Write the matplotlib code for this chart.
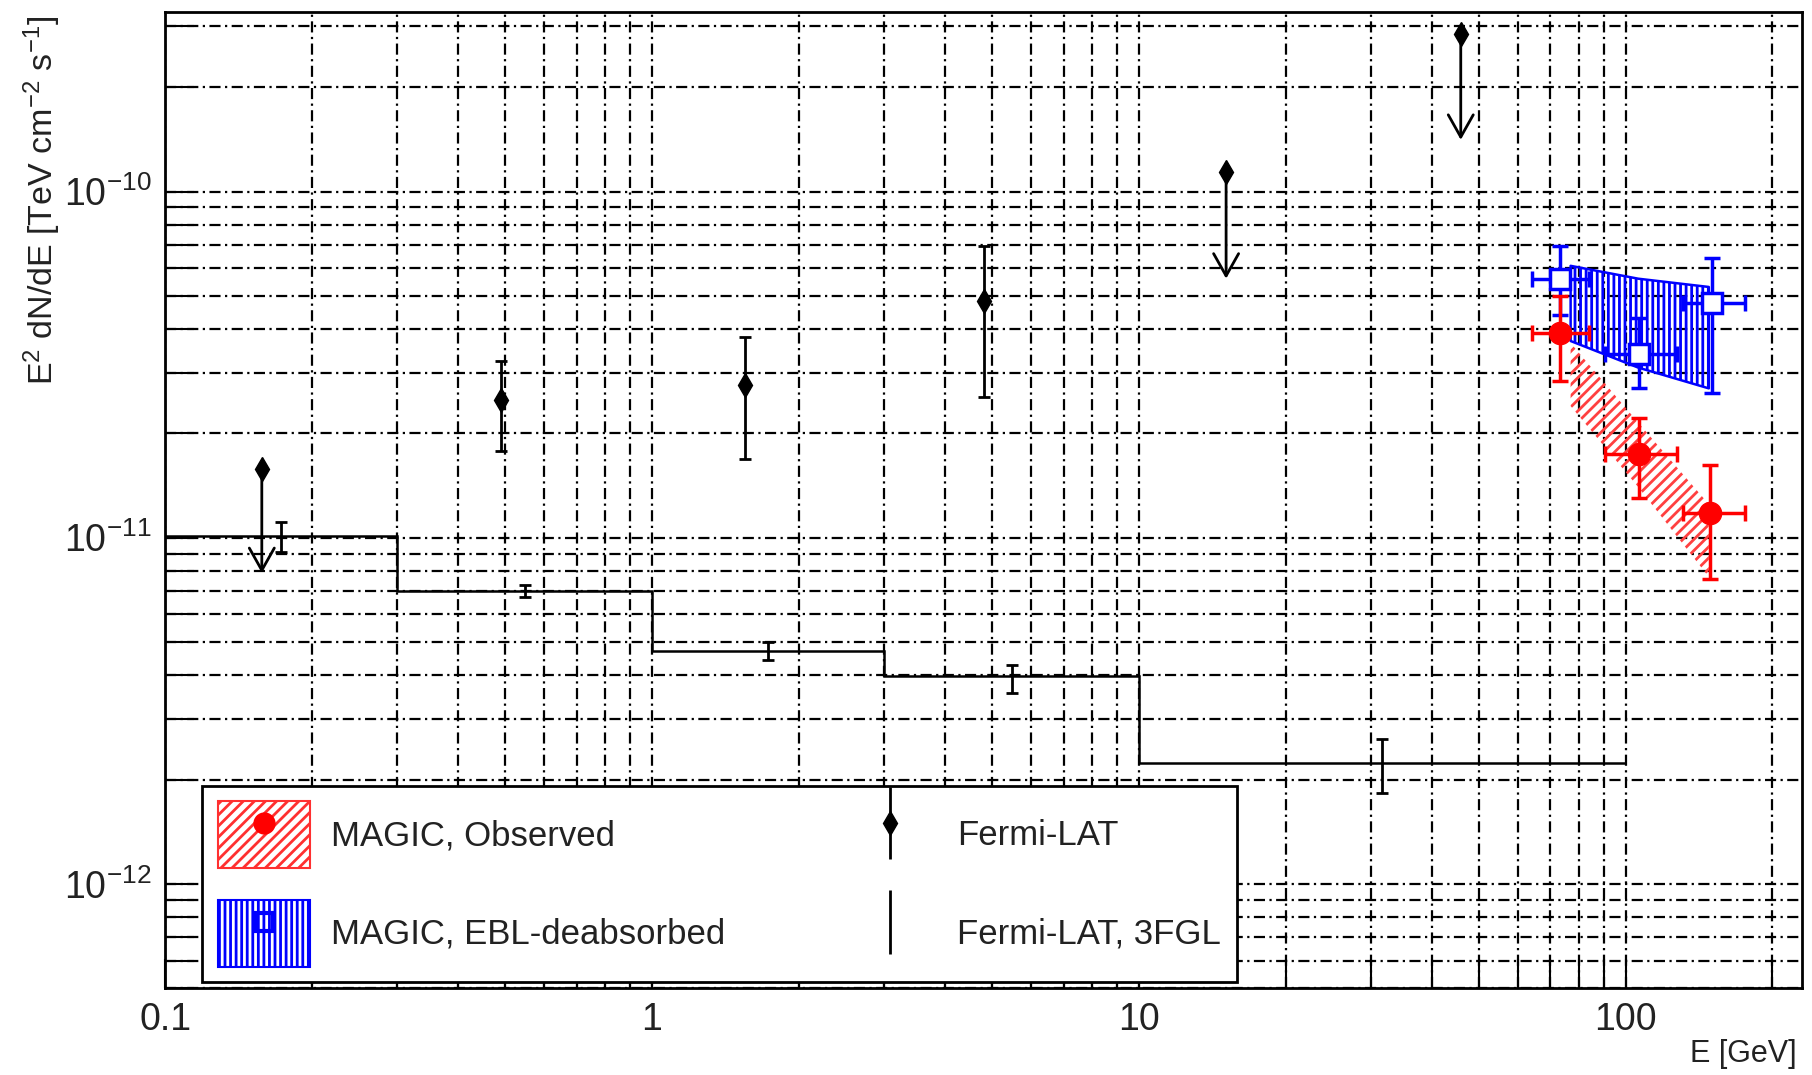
import matplotlib
matplotlib.use("Agg")
import matplotlib.pyplot as plt
from matplotlib.patches import Patch
from matplotlib.lines import Line2D
from matplotlib.legend_handler import HandlerTuple
from matplotlib.ticker import LogLocator, NullFormatter, FixedLocator

plt.rcParams['font.family'] = ['Liberation Sans', 'DejaVu Sans']
plt.rcParams['mathtext.fontset'] = 'custom'
plt.rcParams['mathtext.rm'] = 'Liberation Sans'
plt.rcParams['mathtext.it'] = 'Liberation Sans:italic'
plt.rcParams['mathtext.bf'] = 'Liberation Sans:bold'
plt.rcParams['hatch.linewidth'] = 2.0

# Fermi-LAT : points avec barres d'erreur
lat_e = [0.49, 1.55, 4.8]
lat_f = [2.5e-11, 2.77e-11, 4.82e-11]
lat_f_lo = [1.78e-11, 1.69e-11, 2.55e-11]
lat_f_hi = [3.23e-11, 3.8e-11, 6.97e-11]

# Fermi-LAT : limites supérieures (flèche jusqu'à lat_ul_end)
lat_ul_e = [0.158, 15.1, 45.8]
lat_ul_f = [1.58e-11, 1.14e-10, 2.86e-10]
lat_ul_end = [7.9e-12, 5.6e-11, 1.41e-10]

# Fermi-LAT 3FGL : bins en énergie
fgl_edges = [0.1, 0.3, 1, 3, 10, 100]
fgl_f = [1.01e-11, 7.03e-12, 4.71e-12, 3.98e-12, 2.24e-12]
fgl_e = [0.173, 0.548, 1.73, 5.48, 31.6]
fgl_f_lo = [9.1e-12, 6.76e-12, 4.43e-12, 3.55e-12, 1.83e-12]
fgl_f_hi = [1.11e-11, 7.3e-12, 5.01e-12, 4.3e-12, 2.62e-12]

# MAGIC observé
magic_e = [73.3, 106.6, 149]
magic_e_lo = [64.2, 90.7, 130.7]
magic_e_hi = [84, 127.6, 176]
magic_f = [3.89e-11, 1.75e-11, 1.175e-11]
magic_f_lo = [2.84e-11, 1.3e-11, 7.6e-12]
magic_f_hi = [5.0e-11, 2.21e-11, 1.62e-11]

# MAGIC corrigé de l'EBL
deabs_e = [73.3, 106.6, 150]
deabs_e_lo = [64.2, 90.7, 130.7]
deabs_e_hi = [84, 127.6, 176]
deabs_f = [5.6e-11, 3.4e-11, 4.77e-11]
deabs_f_lo = [4.4e-11, 2.7e-11, 2.61e-11]
deabs_f_hi = [6.97e-11, 4.3e-11, 6.44e-11]

# bandes d'incertitude
band_e = [77, 106, 148]
obs_band_hi = [3.65e-11, 2.15e-11, 1.25e-11]
obs_band_lo = [2.4e-11, 1.4e-11, 7.7e-12]
deabs_band_hi = [6.1e-11, 5.6e-11, 5.3e-11]
deabs_band_lo = [3.7e-11, 3.1e-11, 2.7e-11]

x_ticks = [0.1, 1, 10, 100]
x_tick_labels = ['0.1', '1', '10', '100']
y_ticks = [1e-12, 1e-11, 1e-10]
y_tick_labels = [r'$10^{-12}$', r'$10^{-11}$', r'$10^{-10}$']


def asym(val, lo, hi):
    return [[v - l for v, l in zip(val, lo)], [h - v for v, h in zip(val, hi)]]


fig = plt.figure(figsize=(18.12, 10.75), dpi=100)
ax = fig.add_axes([0.0911, 0.0809, 0.9034, 0.9079])
ax.set_xscale('log')
ax.set_yscale('log')
ax.set_xlim(0.1, 230)
ax.set_ylim(5e-13, 3.3e-10)

ax.xaxis.set_major_locator(FixedLocator(x_ticks))
ax.set_xticklabels(x_tick_labels)
ax.xaxis.set_minor_locator(LogLocator(base=10, subs=range(2, 10), numticks=20))
ax.xaxis.set_minor_formatter(NullFormatter())
ax.yaxis.set_major_locator(FixedLocator(y_ticks))
ax.set_yticklabels(y_tick_labels)
ax.yaxis.set_minor_locator(LogLocator(base=10, subs=range(2, 10), numticks=20))
ax.yaxis.set_minor_formatter(NullFormatter())

ax.set_axisbelow(True)
ax.grid(True, which='both', color='k', lw=1.6, linestyle=(0, (5, 2, 1, 2)))
ax.tick_params(which='both', direction='in', length=21, width=1.5,
               labelsize=27, pad=10, labelcolor='#222222')
for sp in ax.spines.values():
    sp.set_linewidth(2)

# bandes MAGIC
ax.fill_between(band_e, deabs_band_lo, deabs_band_hi, facecolor='none',
                edgecolor='blue', hatch='|||', linewidth=1.8, zorder=3)
ax.fill_between(band_e, obs_band_lo, obs_band_hi, facecolor='none',
                edgecolor='#ff4040', hatch='///', linewidth=0, zorder=3)

# Fermi-LAT 3FGL
ax.stairs(fgl_f, fgl_edges, baseline=None, color='k', lw=1.8, zorder=4)
ax.errorbar(fgl_e, fgl_f, yerr=asym(fgl_f, fgl_f_lo, fgl_f_hi),
            fmt='none', ecolor='k', elinewidth=2, capsize=4.5, capthick=2, zorder=4)

# Fermi-LAT
ax.errorbar(lat_e, lat_f, yerr=asym(lat_f, lat_f_lo, lat_f_hi),
            fmt='d', color='k', ms=12.5, elinewidth=2, capsize=4, capthick=2, zorder=5)
ax.plot(lat_ul_e, lat_ul_f, 'd', color='k', ms=12.5, zorder=5)
for e, f, f_end in zip(lat_ul_e, lat_ul_f, lat_ul_end):
    ax.annotate('', xy=(e, f_end), xytext=(e, f),
                arrowprops=dict(arrowstyle='->,head_length=0.8,head_width=0.45',
                                mutation_scale=20, color='k', lw=2,
                                shrinkA=0, shrinkB=0), zorder=5)

# MAGIC
ax.errorbar(deabs_e, deabs_f,
            xerr=asym(deabs_e, deabs_e_lo, deabs_e_hi),
            yerr=asym(deabs_f, deabs_f_lo, deabs_f_hi),
            fmt='s', color='blue', mfc='white', mew=2.5, ms=14,
            elinewidth=2.5, capsize=6, capthick=2.5, zorder=6)
ax.errorbar(magic_e, magic_f,
            xerr=asym(magic_e, magic_e_lo, magic_e_hi),
            yerr=asym(magic_f, magic_f_lo, magic_f_hi),
            fmt='o', color='red', ms=16, elinewidth=2.5, capsize=6,
            capthick=2.5, zorder=7)

# légende
h_obs = (Patch(facecolor='white', edgecolor='#ff3030', hatch='///', lw=1.5),
         Line2D([], [], marker='o', color='red', ms=15, ls='none'))
h_deabs = (Patch(facecolor='white', edgecolor='blue', hatch='|||', lw=1.5),
           Line2D([], [], marker='s', color='blue', mfc='none', mew=3, ms=13, ls='none'))
h_lat = (Line2D([], [], marker='|', color='k', ms=52, mew=2, ls='none'),
         Line2D([], [], marker='d', color='k', ms=12.5, ls='none'))
h_fgl = Line2D([], [], marker='|', color='k', ms=46, mew=2, ls='none')

leg = ax.legend([h_obs, h_deabs, h_lat, h_fgl],
                ['MAGIC, Observed', 'MAGIC, EBL-deabsorbed', 'Fermi-LAT', 'Fermi-LAT, 3FGL'],
                handler_map={tuple: HandlerTuple(ndivide=1, pad=0)},
                ncols=2, mode='expand', loc='lower left',
                bbox_to_anchor=(0.0226, 0.006, 0.632, 0.2),
                borderaxespad=0, fontsize=25, handlelength=2.65, handleheight=2.59,
                handletextpad=0.62, labelspacing=0.9, columnspacing=2.7,
                borderpad=0.45, fancybox=False, framealpha=1, edgecolor='k')
leg.get_frame().set_linewidth(2)
leg.set_zorder(10)
for t in leg.get_texts():
    t.set_color('#222222')

fig.text(1797 / 1812, 1 - 1054 / 1075, 'E [GeV]', ha='right', va='center',
         fontsize=22, color='#222222')
fig.text(42 / 1812, 1 - 16 / 1075, r'E$^{2}$ dN/dE [TeV cm$^{-2}$ s$^{-1}$]',
         rotation=90, ha='center', va='top', fontsize=24.5, color='#222222')

fig.savefig('out.png', dpi=100)
